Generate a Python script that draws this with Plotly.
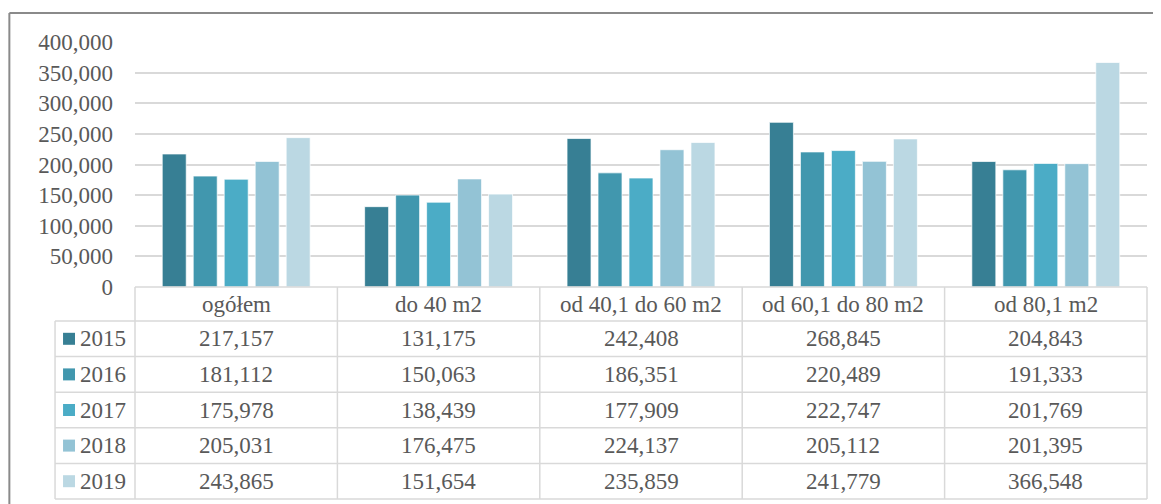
import plotly.graph_objects as go

categories = ["ogółem", "do 40 m2", "od 40,1 do 60 m2", "od 60,1 do 80 m2", "od 80,1 m2"]
years = ["2015", "2016", "2017", "2018", "2019"]
values = {
    "2015": [217157, 131175, 242408, 268845, 204843],
    "2016": [181112, 150063, 186351, 220489, 191333],
    "2017": [175978, 138439, 177909, 222747, 201769],
    "2018": [205031, 176475, 224137, 205112, 201395],
    "2019": [243865, 151654, 235859, 241779, 366548],
}
colors = ["#377F94", "#4197AE", "#4BACC6", "#93C3D5", "#BBD8E3"]
tick_vals = [0, 50000, 100000, 150000, 200000, 250000, 300000, 350000, 400000]

# page has an 8px body margin: figure origin sits at (8, 8) in the window
OFF = 8
W, H = 1161 - OFF, 504 - OFF
PL, PR, PT, PB = 135, 1147.5, 42, 287   # plot area in window pixels
L, R, T, B = PL - OFF, 1161 - PR, PT - OFF, 504 - PB
PW = PR - PL
PH = PB - PT
FONT = "Liberation Serif, Times New Roman, serif"
TXT = "#595959"
GRID = "#D9D9D9"


def px(X):
    return (X - PL) / PW


def py(Y):
    return (PB - Y) / PH


fig = go.Figure()
for yr, col in zip(years, colors):
    fig.add_trace(go.Bar(
        x=categories, y=values[yr], name=yr,
        marker=dict(color=col, line=dict(color="rgba(255,255,255,0.7)", width=1)),
        showlegend=False,
    ))

shapes = []
annotations = []

# outer frame
shapes.append(dict(type="line", xref="paper", yref="paper", x0=px(9.3), x1=px(1200),
                   y0=py(13), y1=py(13), line=dict(color="#8A8A8A", width=2)))
shapes.append(dict(type="line", xref="paper", yref="paper", x0=px(9.3), x1=px(9.3),
                   y0=py(13), y1=py(520), line=dict(color="#8A8A8A", width=2)))

# table geometry
top = PB
head_bot = 321
row_h = 35.6
row_bottoms = [head_bot + row_h * (k + 1) for k in range(len(years))]
bottom = row_bottoms[-1]
left_leg = 55
right = PR

line_style = dict(color=GRID, width=1.5)
shapes.append(dict(type="line", xref="paper", yref="paper", x0=px(PL), x1=px(right),
                   y0=py(top), y1=py(top), line=line_style))
for Y in [head_bot] + row_bottoms:
    shapes.append(dict(type="line", xref="paper", yref="paper", x0=px(left_leg), x1=px(right),
                       y0=py(Y), y1=py(Y), line=line_style))
shapes.append(dict(type="line", xref="paper", yref="paper", x0=px(left_leg), x1=px(left_leg),
                   y0=py(head_bot), y1=py(bottom), line=line_style))
n = len(categories)
for i in range(n + 1):
    xp = i / n
    shapes.append(dict(type="line", xref="paper", yref="paper", x0=xp, x1=xp,
                       y0=py(top), y1=py(bottom), line=line_style))

# header
for c in categories:
    annotations.append(dict(x=c, xref="x", y=py((top + head_bot) / 2), yref="paper",
                            text=c, showarrow=False, xanchor="center", yanchor="middle",
                            font=dict(family=FONT, size=23, color=TXT)))
# rows
for k, (yr, col) in enumerate(zip(years, colors)):
    yc = head_bot + row_h * (k + 0.5)
    shapes.append(dict(type="rect", xref="paper", yref="paper", x0=px(63), x1=px(75),
                       y0=py(yc - 6), y1=py(yc + 6), fillcolor=col, line=dict(width=0)))
    annotations.append(dict(x=px(78), xref="paper", y=py(yc), yref="paper", text=yr,
                            showarrow=False, xanchor="left", yanchor="middle",
                            font=dict(family=FONT, size=23, color=TXT)))
    for c, v in zip(categories, values[yr]):
        annotations.append(dict(x=c, xref="x", y=py(yc), yref="paper", text=f"{v:,}",
                                showarrow=False, xanchor="center", yanchor="middle",
                                font=dict(family=FONT, size=23, color=TXT)))

fig.update_layout(
    width=W, height=H,
    margin=dict(l=L, r=R, t=T, b=B, pad=0),
    paper_bgcolor="white", plot_bgcolor="white",
    barmode="group", bargap=0.2346, bargroupgap=0.226,
    shapes=shapes, annotations=annotations,
    xaxis=dict(showticklabels=False, showgrid=False, zeroline=False, showline=False, ticks=""),
    yaxis=dict(range=[0, 400000], tickvals=tick_vals, tickformat=",d",
               showgrid=True, gridcolor=GRID, gridwidth=1.5, zeroline=False,
               showline=False, ticks="", ticklabelstandoff=21,
               tickfont=dict(family=FONT, size=23, color=TXT)),
)

fig.write_html("out.html")
